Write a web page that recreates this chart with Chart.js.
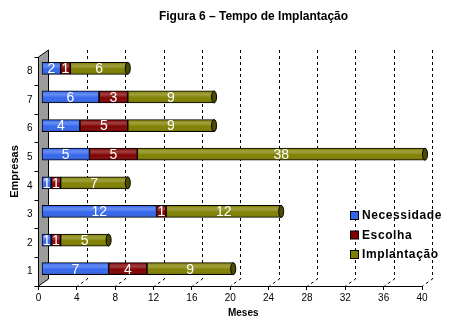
<!DOCTYPE html>
<html>
<head>
<meta charset="utf-8">
<script src="https://cdn.jsdelivr.net/npm/chart.js@4"></script>
<style>
  html, body { margin: 0; padding: 0; background: #fff; }
  #wrap { width: 459px; height: 329px; }
</style>
</head>
<body>
<div id="wrap"><canvas id="chart" width="459" height="329"></canvas></div>
<script>
// data
const empresas = ['1', '2', '3', '4', '5', '6', '7', '8'];
const necessidade = [7, 1, 12, 1, 5, 4, 6, 2];
const escolha = [4, 1, 1, 1, 5, 5, 3, 1];
const implantacao = [9, 5, 12, 7, 38, 9, 9, 6];
const xTicks = [0, 4, 8, 12, 16, 20, 24, 28, 32, 36, 40];

const FONT = '"Liberation Sans", Arial, sans-serif';
const DEPTH_X = 10, DEPTH_Y = 7;   // 3d depth of the back wall
const BAR_DX = 3, BAR_DY = -3;     // bars sit a bit into the depth

// back wall, floor lines, dashed grid
const backdrop = {
  id: 'backdrop',
  beforeDatasetsDraw(chart) {
    const { ctx, chartArea: a, scales: { x } } = chart;
    ctx.save();
    // left wall
    ctx.beginPath();
    ctx.moveTo(a.left, a.bottom);
    ctx.lineTo(a.left + DEPTH_X, a.bottom - DEPTH_Y);
    ctx.lineTo(a.left + DEPTH_X, a.top - DEPTH_Y);
    ctx.lineTo(a.left, a.top);
    ctx.closePath();
    ctx.fillStyle = '#9c9c9c';
    ctx.fill();
    ctx.strokeStyle = '#000';
    ctx.lineWidth = 1;
    ctx.stroke();
    // dashed grid lines on the back + floor diagonals
    ctx.setLineDash([3, 3]);
    xTicks.slice(1).forEach(v => {
      const px = Math.round(x.getPixelForValue(v)) + 0.5;
      ctx.beginPath();
      ctx.moveTo(px + DEPTH_X, a.top - DEPTH_Y);
      ctx.lineTo(px + DEPTH_X, a.bottom - DEPTH_Y);
      ctx.lineTo(px, a.bottom);
      ctx.stroke();
    });
    ctx.restore();
    ctx.save();
    ctx.translate(BAR_DX, BAR_DY);
  },
  afterDatasetsDraw(chart) {
    const { ctx, chartArea: a } = chart;
    // cylinder shading + value labels
    chart.data.datasets.forEach((ds, i) => {
      const meta = chart.getDatasetMeta(i);
      meta.data.forEach((el, j) => {
        const x0 = Math.min(el.base, el.x), x1 = Math.min(Math.max(el.base, el.x), a.right);
        const top = el.y - el.height / 2, h = el.height;
        const g = ctx.createLinearGradient(0, top, 0, top + h);
        g.addColorStop(0, 'rgba(255,255,255,0.05)');
        g.addColorStop(0.3, 'rgba(255,255,255,0.25)');
        g.addColorStop(0.6, 'rgba(255,255,255,0.0)');
        g.addColorStop(1, 'rgba(0,0,0,0.25)');
        ctx.fillStyle = g;
        ctx.fillRect(x0 + 1, top + 1, x1 - x0 - 2, h - 2);
        if (i === 2) {
          // end cap of the cylinder
          ctx.beginPath();
          ctx.ellipse(x1, el.y, 2.5, h / 2, 0, 0, Math.PI * 2);
          ctx.fillStyle = '#4d4d00';
          ctx.fill();
          ctx.strokeStyle = '#000';
          ctx.lineWidth = 1;
          ctx.stroke();
        }
        ctx.fillStyle = '#fff';
        ctx.font = '14px ' + FONT;
        ctx.textAlign = 'center';
        ctx.textBaseline = 'middle';
        ctx.fillText(String(ds.data[j]), (x0 + x1) / 2, el.y + 1);
      });
    });
    ctx.restore();

    ctx.save();
    ctx.fillStyle = '#000';
    ctx.textAlign = 'center';
    ctx.textBaseline = 'middle';
    // title
    ctx.font = 'bold 12px ' + FONT;
    ctx.fillText('Figura 6 – Tempo de Implantação', chart.width / 2 + 24, 17);
    // x axis title
    ctx.font = 'bold 10px ' + FONT;
    ctx.fillText('Meses', (a.left + a.right) / 2 + 13, 313);

    // legend inside the plot
    const lx = a.right - 72, ly = a.bottom - 70;
    ctx.font = 'bold 12px ' + FONT;
    ctx.letterSpacing = '0.6px';
    ctx.textAlign = 'left';
    chart.data.datasets.forEach((ds, i) => {
      const y = ly + i * 19.5;
      ctx.fillStyle = ds.backgroundColor;
      ctx.fillRect(lx + 0.5, y - 4.5, 8, 8);
      ctx.strokeStyle = '#000';
      ctx.lineWidth = 1;
      ctx.strokeRect(lx + 0.5, y - 4.5, 8, 8);
      ctx.fillStyle = '#000';
      ctx.fillText(ds.label, lx + 12, y);
    });
    ctx.restore();
  }
};

new Chart(document.getElementById('chart'), {
  type: 'bar',
  data: {
    labels: empresas,
    datasets: [
      { label: 'Necessidade', data: necessidade, backgroundColor: '#3366ee' },
      { label: 'Escolha', data: escolha, backgroundColor: '#800000' },
      { label: 'Implantação', data: implantacao, backgroundColor: '#808000' }
    ].map(d => Object.assign(d, {
      borderColor: '#000', borderWidth: 1, borderSkipped: false, barThickness: 12
    }))
  },
  options: {
    indexAxis: 'y',
    responsive: false,
    animation: false,
    events: [],
    layout: { padding: { top: 57, right: 37, left: 0, bottom: 0 } },
    plugins: { legend: { display: false }, tooltip: { enabled: false }, title: { display: false } },
    scales: {
      x: {
        stacked: true, min: 0, max: 40,
        afterFit: s => { s.height = 43; },
        afterBuildTicks: s => { s.ticks = xTicks.map(v => ({ value: v })); },
        ticks: { color: '#000', font: { size: 10, family: FONT }, padding: 2, maxRotation: 0 },
        grid: { drawOnChartArea: false, tickLength: 4, color: '#000' },
        border: { color: '#000' },
        title: { display: false }
      },
      y: {
        stacked: true, reverse: true,
        afterFit: s => { s.width = 38.5; },
        ticks: { color: '#000', font: { size: 10, family: FONT }, padding: 2 },
        grid: { drawOnChartArea: false, tickLength: 4, color: '#000', offset: true },
        border: { color: '#000' },
        title: { display: true, text: 'Empresas', color: '#000', font: { size: 11, weight: 'bold', family: FONT }, padding: { top: 8, bottom: 0 } }
      }
    }
  },
  plugins: [backdrop]
});
</script>
</body>
</html>
